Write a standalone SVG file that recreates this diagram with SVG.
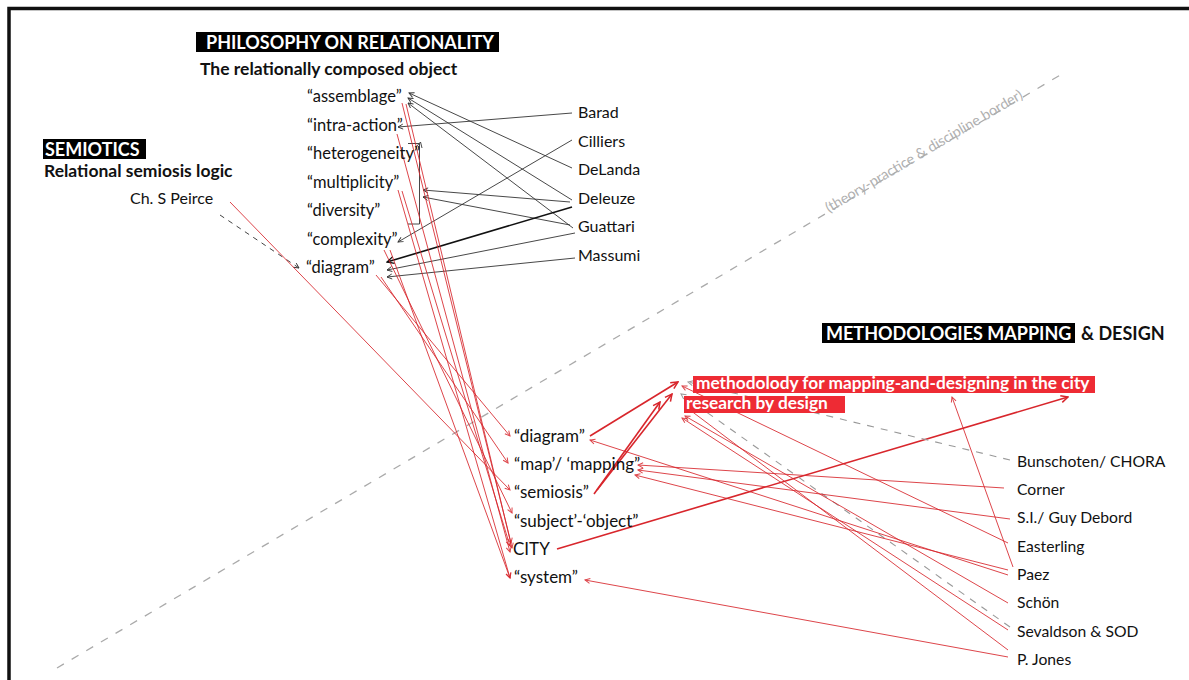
<svg xmlns="http://www.w3.org/2000/svg" width="1189" height="680" viewBox="0 0 1189 680">
<defs>
<style>
.t{font-family:Lato,"Open Sans","Liberation Sans",sans-serif;font-size:16px;fill:#111}
.q{font-size:16.5px}
.mq{font-size:17px}
.ra{font-size:15.7px}
.b{font-weight:bold;font-size:17.5px}
.h{font-family:Lato,"Open Sans","Liberation Sans",sans-serif;font-size:18px;font-weight:bold;fill:#fff}
.w{font-family:Lato,"Open Sans","Liberation Sans",sans-serif;font-size:17.3px;font-weight:bold;fill:#fff}
.k{stroke:#333;stroke-width:0.9;fill:none}
.kb{stroke:#111;stroke-width:1.6;fill:none}
.r{stroke:#d8262c;stroke-width:1;fill:none;opacity:0.85}
.rt{stroke:#d8262c;stroke-width:1.6;fill:none}
.g{stroke:#aaa;stroke-width:1.3;fill:none;stroke-dasharray:8 9}
.gd{stroke:#999;stroke-width:1.1;fill:none;stroke-dasharray:7 7}
.kd{stroke:#444;stroke-width:1;fill:none;stroke-dasharray:5 5}
</style>
<marker id="mk" viewBox="-7 -4 8 8" refX="0" refY="0" markerWidth="8" markerHeight="8" orient="auto" markerUnits="userSpaceOnUse"><path d="M-5,-2.5 L0,0 L-5,2.5" fill="none" stroke="#333" stroke-width="0.9"/></marker>
<marker id="mkb" viewBox="-9 -5 10 10" refX="0" refY="0" markerWidth="10" markerHeight="10" orient="auto" markerUnits="userSpaceOnUse"><path d="M-7,-3.5 L0,0 L-7,3.5" fill="none" stroke="#111" stroke-width="1.3"/></marker>
<marker id="mr" viewBox="-7 -4 8 8" refX="0" refY="0" markerWidth="8" markerHeight="8" orient="auto" markerUnits="userSpaceOnUse"><path d="M-5,-2.5 L0,0 L-5,2.5" fill="none" stroke="#d8262c" stroke-width="1"/></marker>
<marker id="mrt" viewBox="-9 -5 10 10" refX="0" refY="0" markerWidth="10" markerHeight="10" orient="auto" markerUnits="userSpaceOnUse"><path d="M-7,-3.5 L0,0 L-7,3.5" fill="none" stroke="#d8262c" stroke-width="1.5"/></marker>
<marker id="mg" viewBox="-7 -4 8 8" refX="0" refY="0" markerWidth="8" markerHeight="8" orient="auto" markerUnits="userSpaceOnUse"><path d="M-5,-2.5 L0,0 L-5,2.5" fill="none" stroke="#999" stroke-width="1"/></marker>
</defs>
<rect width="1189" height="680" fill="#fff"/>
<path d="M9,680 V8.5 H1189" fill="none" stroke="#111" stroke-width="3.5"/>

<g id="border-line">
<line class="g" x1="57" y1="668" x2="1062" y2="74"/>
<text transform="translate(829,213) rotate(-30.6)" style="font-family:Lato,'Open Sans','Liberation Sans',sans-serif;font-size:14.4px;fill:#b0b0b0">(theory-practice &amp; discipline border)</text>
</g>

<g id="connectors">
<line class="k" x1="572" y1="168" x2="409" y2="93" marker-end="url(#mk)"/>
<line class="k" x1="572" y1="200" x2="408" y2="98" marker-end="url(#mk)"/>
<line class="k" x1="573" y1="228" x2="408" y2="103" marker-end="url(#mk)"/>
<line class="k" x1="572" y1="113" x2="398" y2="127" marker-end="url(#mk)"/>
<line class="k" x1="572" y1="140" x2="398" y2="242" marker-end="url(#mk)"/>
<line class="k" x1="570" y1="202" x2="423" y2="190" marker-end="url(#mk)"/>
<line class="k" x1="570" y1="225" x2="423" y2="197" marker-end="url(#mk)"/>
<line class="kb" x1="572" y1="207" x2="387" y2="262" marker-end="url(#mkb)"/>
<line class="k" x1="575" y1="233" x2="387" y2="270" marker-end="url(#mk)"/>
<line class="k" x1="575" y1="258" x2="387" y2="277" marker-end="url(#mk)"/>
<path class="k" d="M408,143.5 H419.5 V224 H408"/>
<path class="k" d="M416,147 L420.5,142 L422,148"/>
<line class="kd" x1="220" y1="215" x2="299" y2="268" marker-end="url(#mk)"/>

<line class="r" x1="230" y1="202" x2="510" y2="490" marker-end="url(#mr)"/>
<line class="r" x1="376" y1="275" x2="510" y2="436" marker-end="url(#mr)"/>
<line class="r" x1="381" y1="277" x2="508" y2="463" marker-end="url(#mr)"/>
<line class="r" x1="402" y1="103" x2="511" y2="543" marker-end="url(#mr)"/>
<line class="r" x1="406" y1="104" x2="512" y2="548" marker-end="url(#mr)"/>
<line class="r" x1="397" y1="134" x2="510" y2="552" marker-end="url(#mr)"/>
<line class="r" x1="398" y1="190" x2="510" y2="578" marker-end="url(#mr)"/>
<line class="r" x1="402" y1="191" x2="510" y2="546" marker-end="url(#mr)"/>
<line class="r" x1="384" y1="250" x2="512" y2="513" marker-end="url(#mr)"/>
<line class="r" x1="390" y1="250" x2="510" y2="578" marker-end="url(#mr)"/>

<line class="rt" x1="590" y1="436" x2="678" y2="382" marker-end="url(#mrt)"/>
<line class="rt" x1="594" y1="494" x2="660" y2="402" marker-end="url(#mrt)"/>
<line class="rt" x1="597" y1="490" x2="672" y2="394" marker-end="url(#mrt)"/>
<line class="rt" x1="557" y1="549" x2="1068" y2="397" marker-end="url(#mrt)"/>

<line class="gd" x1="1010" y1="460" x2="688" y2="382" marker-end="url(#mg)"/>
<line class="gd" x1="1010" y1="627" x2="681" y2="394" marker-end="url(#mg)"/>

<line class="r" x1="1004" y1="488" x2="638" y2="465" marker-end="url(#mr)"/>
<line class="r" x1="1010" y1="519" x2="638" y2="470" marker-end="url(#mr)"/>
<line class="r" x1="1008" y1="570" x2="635" y2="475" marker-end="url(#mr)"/>
<line class="r" x1="1008" y1="575" x2="590" y2="440" marker-end="url(#mr)"/>
<line class="r" x1="1008" y1="657" x2="585" y2="580" marker-end="url(#mr)"/>
<line class="r" x1="1013" y1="567" x2="952" y2="397" marker-end="url(#mr)"/>
<line class="r" x1="1008" y1="543" x2="682" y2="386" marker-end="url(#mr)"/>
<line class="r" x1="1008" y1="603" x2="685" y2="416" marker-end="url(#mr)"/>
<line class="r" x1="1008" y1="630" x2="682" y2="418" marker-end="url(#mr)"/>
<line class="r" x1="1008" y1="650" x2="686" y2="407" marker-end="url(#mr)"/>
</g>

<g id="head-philosophy">
<rect x="196" y="32" width="303" height="20" fill="#000"/>
<text class="h" x="206" y="49">PHILOSOPHY ON RELATIONALITY</text>
<text class="t b" x="200" y="75">The relationally composed object</text>
</g>
<g id="head-semiotics">
<rect x="43" y="139" width="103" height="20" fill="#000"/>
<text class="h" x="45" y="156">SEMIOTICS</text>
<text class="t b" x="44" y="177">Relational semiosis logic</text>
</g>
<g id="peirce"><text class="t" x="130" y="204">Ch. S Peirce</text></g>

<g id="c-assemblage"><text class="t q" x="307" y="102">“assemblage”</text></g>
<g id="c-intra-action"><text class="t q" x="307" y="131">“intra-action”</text></g>
<g id="c-heterogeneity"><text class="t q" x="307" y="159">“heterogeneity”</text></g>
<g id="c-multiplicity"><text class="t q" x="307" y="188">“multiplicity”</text></g>
<g id="c-diversity"><text class="t q" x="307" y="216">“diversity”</text></g>
<g id="c-complexity"><text class="t q" x="307" y="245">“complexity”</text></g>
<g id="c-diagram-top"><text class="t q" x="306" y="273">“diagram”</text></g>

<g id="a-barad"><text class="t" x="578" y="118">Barad</text></g>
<g id="a-cilliers"><text class="t" x="578" y="147">Cilliers</text></g>
<g id="a-delanda"><text class="t" x="578" y="175">DeLanda</text></g>
<g id="a-deleuze"><text class="t" x="578" y="204">Deleuze</text></g>
<g id="a-guattari"><text class="t" x="578" y="232">Guattari</text></g>
<g id="a-massumi"><text class="t" x="578" y="261">Massumi</text></g>

<g id="m-diagram"><text class="t mq" x="514" y="442">“diagram”</text></g>
<g id="m-map"><text class="t mq" x="514" y="470">“map’/ ‘mapping”</text></g>
<g id="m-semiosis"><text class="t mq" x="514" y="498">“semiosis”</text></g>
<g id="m-subject"><text class="t mq" x="514" y="527">“subject’-‘object”</text></g>
<g id="m-city"><text class="t mq" x="513" y="555">CITY</text></g>
<g id="m-system"><text class="t mq" x="514" y="583">“system”</text></g>

<g id="head-methodologies">
<rect x="822" y="323" width="253" height="20" fill="#000"/>
<text class="h" x="826" y="340">METHODOLOGIES MAPPING</text>
<text class="h" x="1081" y="340" style="fill:#111">&amp; DESIGN</text>
</g>
<g id="methodology">
<rect x="693" y="376" width="402" height="17" fill="#ee2b34"/>
<text class="w" x="696" y="389">methodolody for mapping-and-designing in the city</text>
</g>
<g id="research">
<rect x="684" y="396" width="161" height="17" fill="#ee2b34"/>
<text class="w" x="686" y="409">research by design</text>
</g>

<g id="r-bunschoten"><text class="t ra" x="1017" y="467">Bunschoten/ CHORA</text></g>
<g id="r-corner"><text class="t ra" x="1017" y="495">Corner</text></g>
<g id="r-si"><text class="t ra" x="1017" y="523">S.I./ Guy Debord</text></g>
<g id="r-easterling"><text class="t ra" x="1017" y="552">Easterling</text></g>
<g id="r-paez"><text class="t ra" x="1017" y="580">Paez</text></g>
<g id="r-schon"><text class="t ra" x="1017" y="608">Schön</text></g>
<g id="r-sevaldson"><text class="t ra" x="1017" y="637">Sevaldson &amp; SOD</text></g>
<g id="r-jones"><text class="t ra" x="1017" y="665">P. Jones</text></g>
</svg>
